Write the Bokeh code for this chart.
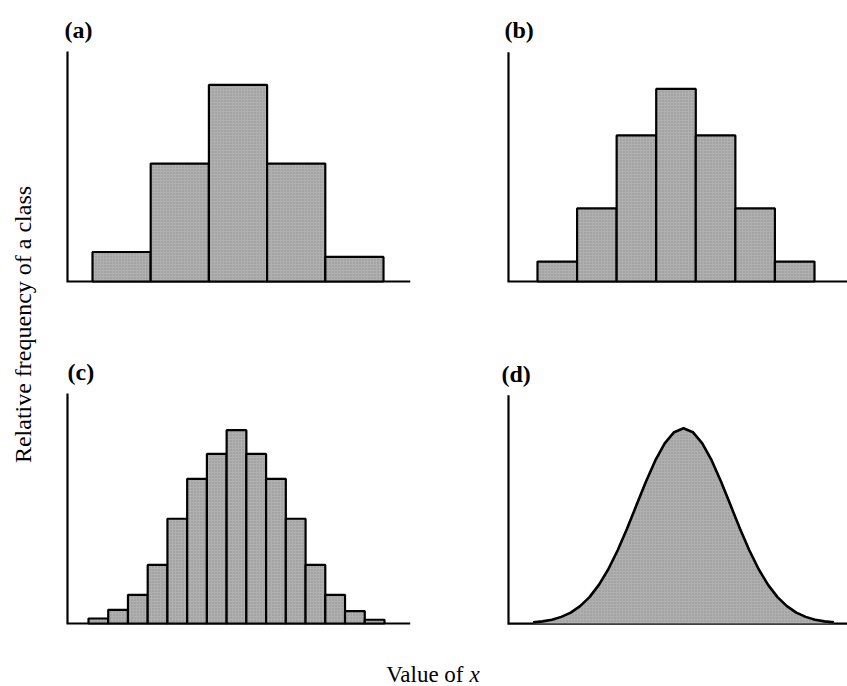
import math

from bokeh.embed import file_html
from bokeh.layouts import column, row
from bokeh.models import Label, Range1d
from bokeh.plotting import figure
from bokeh.resources import INLINE

# Relative frequency of each class, left to right
freq_a = [0.06, 0.24, 0.40, 0.24, 0.05]
freq_b = [0.03, 0.11, 0.22, 0.29, 0.22, 0.11, 0.03]
freq_c = [0.004, 0.011, 0.023, 0.047, 0.084, 0.116, 0.136, 0.155,
          0.136, 0.116, 0.084, 0.047, 0.023, 0.010, 0.003]

# Limiting smooth curve: x in standard-deviation units, y as density
curve_x = [-3.2, -3.0, -2.8, -2.6, -2.4, -2.2, -2.0, -1.8, -1.6, -1.4, -1.2,
           -1.0, -0.8, -0.6, -0.4, -0.2, 0.0, 0.2, 0.4, 0.6, 0.8, 1.0,
           1.2, 1.4, 1.6, 1.8, 2.0, 2.2, 2.4, 2.6, 2.8, 3.0, 3.2]
curve_y = [0.0024, 0.0044, 0.0079, 0.0136, 0.0224, 0.0355, 0.0540, 0.0790,
           0.1109, 0.1497, 0.1942, 0.2420, 0.2897, 0.3332, 0.3683, 0.3910,
           0.3989,
           0.3910, 0.3683, 0.3332, 0.2897, 0.2420, 0.1942, 0.1497, 0.1109,
           0.0790, 0.0540, 0.0355, 0.0224, 0.0136, 0.0079, 0.0044, 0.0024]

panel_labels = ["(a)", "(b)", "(c)", "(d)"]
y_title = "Relative frequency of a class"
x_title = "Value of"
x_symbol = "x"

# Styling
FONT = "Liberation Serif"
INK = "black"
FILL = dict(fill_color="#b0b0b0", hatch_pattern="dot", hatch_color="#666666",
            hatch_scale=3, hatch_weight=1, hatch_alpha=0.45)
PADL = 12          # px of frame kept left of the vertical axis line
PADB = 4           # px of frame kept below the baseline
W, H = 847, 686
STRIP = 40         # width of the strip holding the vertical axis title
XSTRIP = 46        # height of the strip holding the horizontal axis title


def bare(width, height, **kw):
    p = figure(width=width, height=height, output_backend="svg",
               toolbar_location=None, x_axis_type=None, y_axis_type=None, **kw)
    p.grid.visible = False
    p.outline_line_color = None
    p.background_fill_color = "white"
    p.border_fill_color = "white"
    return p


def panel(box, axis_x, axis_end, top, base, px0, x0, kx, y_end, label, lab_px):
    """box = (left, top, width, height) of the figure on the page, in px.
    px0/x0/kx map page px to data x; y_end is the data value at the axis top."""
    fx, fy, fw, fh = box
    frame_top = fy + 4
    p = bare(fw, fh,
             min_border_left=axis_x - PADL - fx,
             min_border_right=fx + fw - axis_end,
             min_border_top=frame_top - fy,
             min_border_bottom=fy + fh - base - PADB)
    to_x = lambda px: x0 + (px - px0) / kx
    ky = (base - top) / y_end
    p.x_range = Range1d(to_x(axis_x - PADL), to_x(axis_end))
    p.y_range = Range1d(-PADB / ky, (base - frame_top) / ky)
    xa, xe = to_x(axis_x), to_x(axis_end)
    p.line([xa, xa, xe], [y_end, 0, 0], line_color=INK, line_width=2.2,
           line_join="miter")
    lx, lb = lab_px
    p.add_layout(Label(x=to_x(lx), y=(base - lb) / ky, text=label,
                       text_font=FONT, text_font_style="bold",
                       text_font_size="24px", text_color=INK,
                       text_baseline="alphabetic", text_align="left"))
    return p


def histogram(p, freqs):
    centers = list(range(1, len(freqs) + 1))
    p.vbar(x=centers, width=1.0, top=freqs, bottom=0,
           line_color=INK, line_width=2.2, **FILL)


# (a) five classes
pa = panel((STRIP, 0, 420, 340), 67, 410, 51, 281,
           px0=92, x0=0.5, kx=(383 - 92) / len(freq_a),
           y_end=max(freq_a) * 1.17, label=panel_labels[0], lab_px=(64, 29))
histogram(pa, freq_a)

# (b) seven classes
pb = panel((460, 0, 387, 340), 508, 847, 52, 282,
           px0=537, x0=0.5, kx=(814 - 537) / len(freq_b),
           y_end=max(freq_b) * 1.19, label=panel_labels[1], lab_px=(504, 30))
histogram(pb, freq_b)

# (c) fifteen classes
pc = panel((STRIP, 340, 420, 300), 67, 410, 393, 623,
           px0=88, x0=0.5, kx=(384 - 88) / len(freq_c),
           y_end=max(freq_c) * 1.19, label=panel_labels[2], lab_px=(67, 371))
histogram(pc, freq_c)

# (d) the smooth limiting curve
pd_ = panel((460, 340, 387, 300), 508, 847, 395, 625,
            px0=683, x0=0.0, kx=47,
            y_end=max(curve_y) * 1.17, label=panel_labels[3], lab_px=(501, 374))
pd_.varea(x=curve_x, y1=[0] * len(curve_x), y2=curve_y, **FILL)
pd_.line(curve_x, curve_y, line_color=INK, line_width=2.6)

# Vertical axis title, shared by all panels
ylab = bare(STRIP, H, min_border=0)
ylab.x_range = Range1d(0, STRIP)
ylab.y_range = Range1d(0, H)
ylab.add_layout(Label(x=22, y=H - 324, text=y_title, angle=math.pi / 2,
                      text_font=FONT, text_font_size="24px", text_color=INK,
                      text_align="center", text_baseline="middle"))

# Horizontal axis title, shared by all panels
xlab = bare(W - STRIP, XSTRIP, min_border=0)
xlab.x_range = Range1d(STRIP, W)
xlab.y_range = Range1d(0, XSTRIP)
xlab.add_layout(Label(x=463, y=12, text=x_title, text_font=FONT,
                      text_font_size="23px", text_color=INK,
                      text_align="right", text_baseline="alphabetic"))
xlab.add_layout(Label(x=469, y=12, text=x_symbol, text_font=FONT,
                      text_font_style="italic", text_font_size="23px",
                      text_color=INK, text_align="left",
                      text_baseline="alphabetic"))

layout = row(ylab, column(row(pa, pb), row(pc, pd_), xlab))

open("out.html", "w").write(file_html(layout, INLINE))
